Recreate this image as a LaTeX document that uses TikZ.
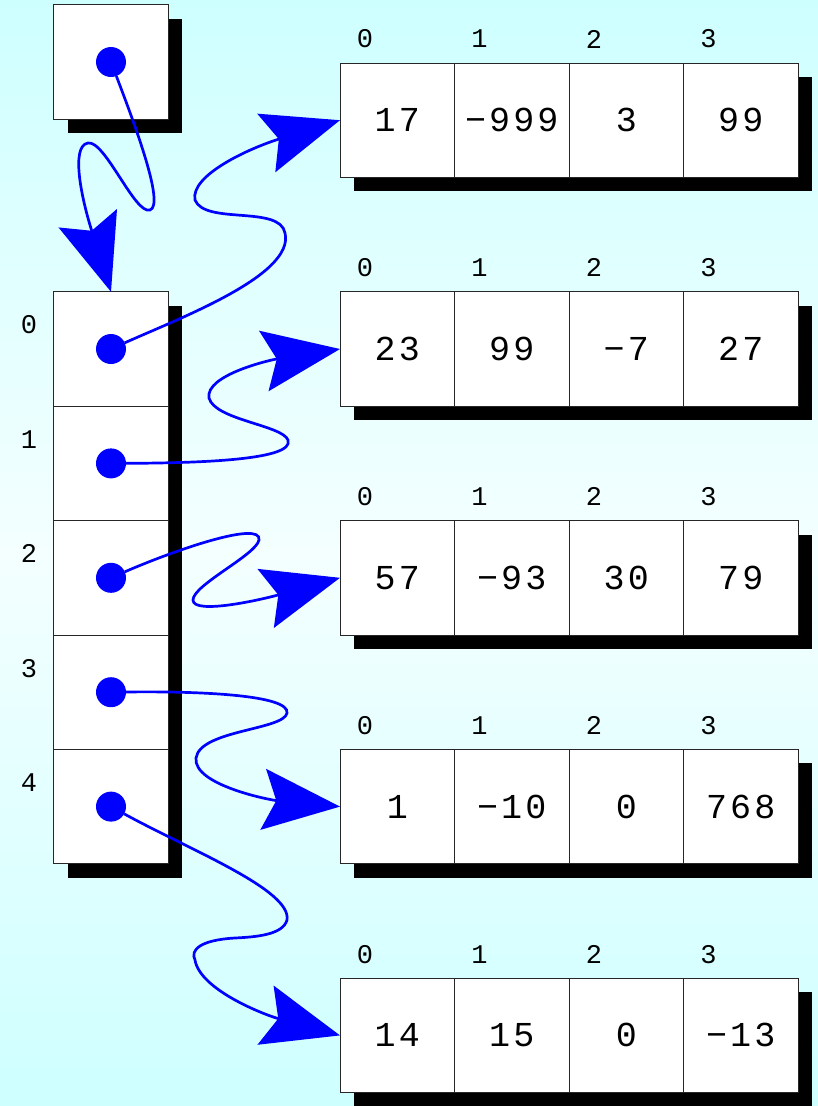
\documentclass[tikz,border=0pt]{standalone}
\usepackage{fontspec}
\usetikzlibrary{arrows.meta,backgrounds}
\newfontfamily\cellfont[LetterSpace=9]{Liberation Mono}
\newfontfamily\idxfont{Liberation Mono}
\definecolor{bgedge}{HTML}{CEFFFF}
\definecolor{bgmid}{HTML}{F4FFFF}
\definecolor{ptr}{HTML}{0000FF}
\tikzset{
  cell/.style={draw=black!85, line width=0.8pt, fill=white, minimum width=114.5pt,
    minimum height=114.4pt, inner sep=0pt, outer sep=0pt,
    font=\cellfont\fontsize{35}{35}\selectfont},
  idx/.style={font=\idxfont\fontsize{27}{27}\selectfont, inner sep=0pt},
  dot/.style={circle, fill=ptr, minimum size=30pt, inner sep=0pt, outer sep=0pt},
  shadowbox/.style={fill=black},
  ptrline/.style={draw=ptr, line width=2.7pt, -{Stealth[length=77pt,width=61pt,inset=13pt]}},
}
\begin{document}
\begin{tikzpicture}[x=1pt,y=-1pt]
\begin{scope}[on background layer]
  \shade[top color=bgedge, bottom color=bgedge, middle color=bgmid] (0,0) rectangle (818,1106);
\end{scope}
\useasboundingbox (0,0) rectangle (818,1106);

% pointer box
\node[cell] (top) at (111,62) {};
% column of pointers
\foreach \i in {0,...,4} {
  \node[cell] (c\i) at (111,{349+114.4*\i}) {};
  \node[idx] (ci\i) at (29,{325+114.4*\i}) {\i};
}
% arrays
\foreach \r/\va/\vb/\vc/\vd in {1/17/−999/3/99, 2/23/99/−7/27, 3/57/−93/30/79, 4/1/−10/0/768, 5/14/15/0/−13} {
  \foreach \j/\v in {0/\va,1/\vb,2/\vc,3/\vd} {
    \node[cell] (a\r-\j) at ({397.25+114.5*\j},{349+228.8*(\r-2)}) {\v};
    \node[idx] (ai\r-\j) at ([xshift=25pt,yshift=24pt]a\r-\j.north west) {\j};
  }
}
% shadows
\begin{scope}[on background layer]
  \fill[shadowbox] ([shift={(14,14)}]top.north west) rectangle ([shift={(14,14)}]top.south east);
  \fill[shadowbox] ([shift={(14,14)}]c0.north west) rectangle ([shift={(14,14)}]c4.south east);
  \foreach \r in {1,...,5}
    \fill[shadowbox] ([shift={(14,14)}]a\r-0.north west) rectangle ([shift={(14,14)}]a\r-3.south east);
\end{scope}
% dots
\node[dot] (dt) at (top.center) {};
\foreach \i in {0,...,4} \node[dot] (d\i) at (c\i.center) {};
% pointer curves
\draw[ptrline] (dt) .. controls (135,125) and (165,205) .. (150,210)
  .. controls (135,215) and (105,140) .. (88,143)
  .. controls (70,146) and (82,200) .. (c0.north);
\draw[ptrline] (d0) .. controls (180,318) and (295,275) .. (285,233)
  .. controls (280,205) and (205,225) .. (195,200)
  .. controls (190,175) and (250,148) .. (a1-0.west);
\draw[ptrline] (d1) .. controls (200,463) and (295,460) .. (288,440)
  .. controls (282,425) and (215,420) .. (209,398)
  .. controls (205,375) and (270,360) .. (a2-0.west);
\draw[ptrline] (d2) .. controls (175,550) and (262,520) .. (259,540)
  .. controls (256,555) and (193,585) .. (193,600)
  .. controls (193,615) and (260,600) .. (a3-0.west);
\draw[ptrline] (d3) .. controls (200,691) and (290,695) .. (287,713)
  .. controls (284,730) and (200,730) .. (196,758)
  .. controls (193,785) and (270,800) .. (a4-0.west);
\draw[ptrline] (d4) .. controls (190,850) and (292,890) .. (287,920)
  .. controls (283,935) and (255,937) .. (235,938)
  .. controls (200,940) and (190,950) .. (195,960)
  .. controls (200,990) and (265,1015) .. (a5-0.west);
\end{tikzpicture}
\end{document}
